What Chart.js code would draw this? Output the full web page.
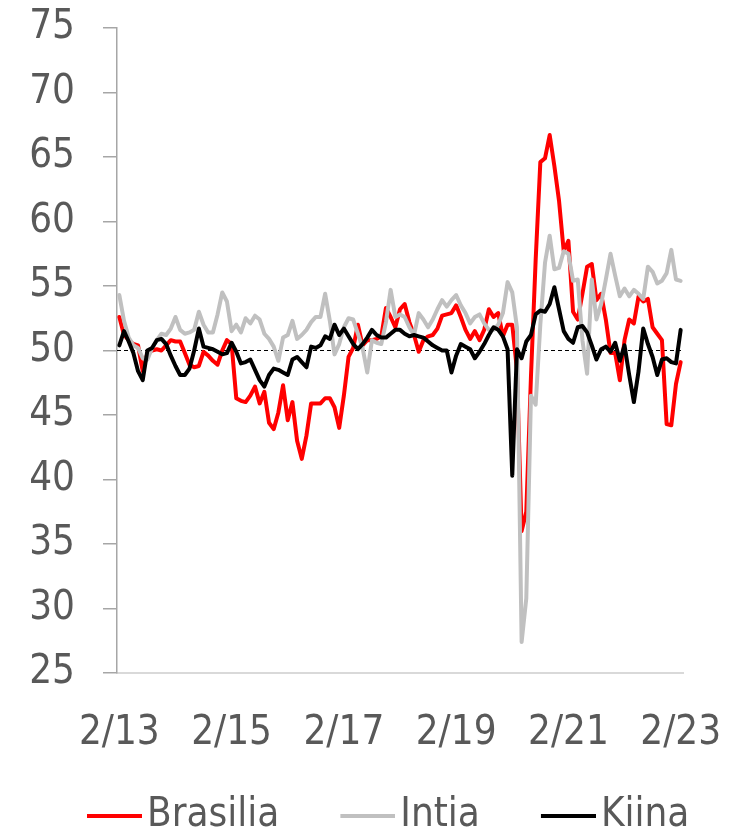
<!DOCTYPE html>
<html>
<head>
<meta charset="utf-8">
<script src="https://cdn.jsdelivr.net/npm/chart.js@4"></script>
<style>
  html, body { margin: 0; padding: 0; background: #fff; }
</style>
</head>
<body>
<canvas id="grafico" width="754" height="836"></canvas>
<script>
// kuukaudet 2/13 ... 2/23
const kuukaudet = []
for (let v = 13; v <= 23; v++) {
    for (let k = 1; k <= 12; k++) {
        if ((v === 13 && k < 2) || (v === 23 && k > 2)) continue
        kuukaudet.push(k + '/' + v)
    }
}

const brasilia = [
    52.6, 51.2, 50.8, 50.5, 50.4, 48.4, 49.8, 50.0, 50.1, 50.0, 50.4, 50.8,
    50.7, 50.7, 49.8, 48.9, 48.7, 48.8, 49.9, 49.6, 49.2, 48.9, 50.0, 50.8,
    50.5, 46.3, 46.1, 46.0, 46.5, 47.2, 45.9, 46.8, 44.4, 43.9, 45.2, 47.3,
    44.6, 46.0, 43.0, 41.6, 43.4, 45.9, 45.9, 45.9, 46.3, 46.3, 45.6, 44.0,
    46.5, 49.5, 50.2, 52.0, 50.4, 50.8, 50.8, 50.9, 51.1, 53.3, 52.6, 51.8,
    53.2, 53.6, 52.2, 51.2, 49.9, 50.8, 51.1, 51.2, 51.7, 52.7, 52.8, 52.9,
    53.5, 52.6, 51.6, 50.9, 51.5, 50.8, 51.6, 53.2, 52.6, 52.9, 51.1, 52.0,
    52.0, 48.5, 36.0, 37.5, 48.0, 57.0, 64.6, 64.9, 66.7, 64.3, 61.6, 57.7,
    58.5, 53.0, 52.4, 54.4, 56.5, 56.7, 53.9, 54.4, 52.4, 49.8, 49.8, 47.7,
    50.8, 52.4, 52.1, 54.2, 53.8, 54.0, 51.8, 51.3, 50.8, 44.3, 44.2, 47.4,
    49.1
]

const intia = [
    54.3, 52.3, 51.0, 50.4, 50.2, 49.4, 49.3, 50.2, 50.8, 51.3, 51.2, 51.7,
    52.6, 51.6, 51.3, 51.4, 51.6, 53.0, 52.0, 51.4, 51.4, 52.8, 54.5, 53.8,
    51.5, 52.0, 51.4, 52.5, 52.1, 52.7, 52.4, 51.3, 50.9, 50.3, 49.2, 51.0,
    51.2, 52.3, 50.9, 51.2, 51.6, 52.2, 52.6, 52.6, 54.4, 52.3, 49.7, 50.5,
    51.8, 52.5, 52.4, 51.3, 50.2, 48.3, 50.8, 50.6, 50.5, 52.2, 54.7, 52.6,
    52.8, 52.6, 51.8, 51.2, 52.9, 52.4, 51.8, 52.4, 53.2, 53.9, 53.4, 53.9,
    54.3, 53.5, 52.9, 52.1, 52.6, 52.8, 52.1, 51.6, 51.6, 52.0, 52.9, 55.3,
    54.5, 51.8, 27.4, 30.8, 46.5, 45.8, 52.0, 56.8, 58.9, 56.3, 56.4, 57.7,
    57.5, 55.4, 55.5, 50.8, 48.2, 55.5, 52.4, 53.6, 55.5, 57.5, 55.8, 54.2,
    54.8, 54.2, 54.7, 54.4, 54.0, 56.5, 56.1, 55.2, 55.4, 56.0, 57.8, 55.5,
    55.4
]

const kiina = [
    50.4, 51.5, 50.7, 49.8, 48.4, 47.7, 50.0, 50.2, 50.8, 50.9, 50.5, 49.6,
    48.8, 48.1, 48.1, 48.6, 50.0, 51.7, 50.3, 50.2, 50.1, 49.9, 49.7, 49.8,
    50.6, 49.9, 49.0, 49.1, 49.3, 48.5, 47.7, 47.2, 48.1, 48.6, 48.5, 48.3,
    48.1, 49.3, 49.5, 49.1, 48.7, 50.3, 50.2, 50.4, 51.1, 50.9, 52.0, 51.2,
    51.7, 51.1, 50.5, 50.1, 50.5, 51.0, 51.6, 51.2, 51.0, 51.0, 51.3, 51.6,
    51.6, 51.3, 51.1, 51.2, 51.1, 51.0, 50.7, 50.4, 50.2, 50.0, 50.0, 48.3,
    49.6, 50.5, 50.3, 50.1, 49.4, 49.9, 50.5, 51.2, 51.8, 51.6, 51.1, 50.1,
    40.3, 50.1, 49.4, 50.7, 51.2, 52.8, 53.1, 53.0, 53.6, 54.9, 53.2, 51.5,
    50.9, 50.6, 51.8, 51.9, 51.4, 50.4, 49.3, 50.1, 50.3, 49.9, 50.6, 49.2,
    50.4, 48.1, 46.0, 48.4, 51.7, 50.5, 49.5, 48.1, 49.3, 49.4, 49.1, 49.0,
    51.6
]

const raja = 50 // katkoviiva
const yTicks = { min: 25, max: 75, step: 5 }

const fontti = '"DejaVu Sans Condensed", "DejaVu Sans", sans-serif'
const tekstiVari = '#595959'

//selitteen viiva kuvana, jotta viiva ja teksti ovat lahella toisiaan
function selitysViiva(vari) {
    const c = document.createElement('canvas')
    c.width = 121
    c.height = 4
    const g = c.getContext('2d')
    g.fillStyle = vari
    g.fillRect(66, 0, 55, 4)
    return c
}

function sarja(nimi, data, vari, jarjestys) {
    return {
        label: nimi,
        data: data,
        borderColor: vari,
        backgroundColor: vari,
        borderWidth: 4,
        borderJoinStyle: 'round',
        borderCapStyle: 'round',
        pointRadius: 0,
        pointStyle: selitysViiva(vari),
        tension: 0,
        order: jarjestys
    }
}

const viiva50 = {
    id: 'viiva50',
    beforeDatasetsDraw(chart) {
        const { ctx, chartArea, scales } = chart
        const y = scales.y.getPixelForValue(raja)
        ctx.save()
        ctx.strokeStyle = '#000'
        ctx.lineWidth = 1
        ctx.setLineDash([4, 3])
        ctx.beginPath()
        ctx.moveTo(chartArea.left, y)
        ctx.lineTo(chartArea.right, y)
        ctx.stroke()
        ctx.restore()
    }
}

const seliteKorkeus = {
    id: 'seliteKorkeus',
    beforeInit(chart) {
        const fit = chart.legend.fit
        chart.legend.fit = function () {
            fit.call(this)
            this.height = 50
        }
    }
}

const grafico = new Chart(document.getElementById('grafico'), {
    type: 'line',
    data: {
        labels: kuukaudet,
        datasets: [
            sarja('Brasilia', brasilia, '#ff0000', 3),
            sarja('Intia', intia, '#c0c0c0', 2),
            sarja('Kiina', kiina, '#000000', 1)
        ]
    },
    options: {
        responsive: false,
        animation: false,
        layout: { padding: { left: 26, top: 28, right: 0, bottom: 0 } },
        plugins: {
            tooltip: { enabled: false },
            legend: {
                position: 'bottom',
                align: 'start',
                labels: {
                    usePointStyle: true,
                    pointStyleWidth: 91,
                    padding: 10,
                    color: tekstiVari,
                    font: { family: fontti, size: 40 },
                    sort: (a, b) => a.datasetIndex - b.datasetIndex
                }
            }
        },
        scales: {
            x: {
                offset: true,
                grid: {
                    offset: true,
                    drawOnChartArea: false,
                    tickLength: 13,
                    lineWidth: 2,
                    color: (c) => (c.index % 24 === 0 ? '#d9d9d9' : 'rgba(0,0,0,0)')
                },
                border: { color: '#d9d9d9', width: 2 },
                ticks: {
                    autoSkip: false,
                    maxRotation: 0,
                    padding: 24,
                    color: tekstiVari,
                    font: { family: fontti, size: 40 },
                    callback: function (v, i) {
                        return i % 24 === 0 ? this.getLabelForValue(v) : null
                    }
                },
                afterFit(s) {
                    s.height = 113
                    s.paddingLeft = 0
                    s.paddingRight = 0
                }
            },
            y: {
                min: yTicks.min,
                max: yTicks.max,
                grid: { drawOnChartArea: false, tickLength: 14, color: '#a6a6a6', lineWidth: 1.5 },
                border: { color: '#a6a6a6', width: 1.5 },
                ticks: {
                    stepSize: yTicks.step,
                    padding: 28,
                    color: tekstiVari,
                    font: { family: fontti, size: 40 }
                },
                afterFit(s) {
                    s.width = 91
                    s.paddingTop = 0
                    s.paddingBottom = 0
                }
            },
            y2: {
                position: 'right',
                grid: { display: false },
                border: { display: false },
                ticks: { display: false },
                afterFit(s) {
                    s.width = 71
                }
            }
        }
    },
    plugins: [viiva50, seliteKorkeus]
})
</script>
</body>
</html>
